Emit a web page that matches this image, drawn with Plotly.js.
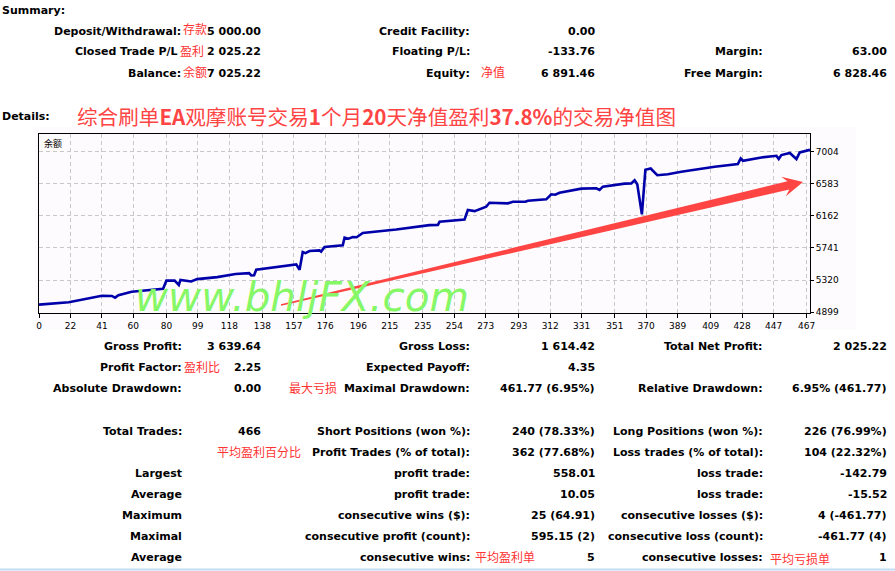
<!DOCTYPE html>
<html>
<head>
<meta charset="utf-8">
<script src="https://cdn.plot.ly/plotly-3.0.1.min.js"></script>
<style>
html,body{margin:0;padding:0;background:#fff;}
#chart{width:895px;height:571px;}
</style>
</head>
<body>
<div id="chart"></div>
<script>
// ---- data ----
const tradeNo = [3,21,41,47,49,51,59,78,80,85,87.5,88.5,95,98.6,110.7,121.8,130,131.3,133,134.3,158.5,160.5,162.4,164,166.5,172.5,173.5,175.6,186.6,187.7,190,192.7,195,198.7,218.9,239,244.1,245.1,260.2,262.2,266.3,270.3,273.3,275.3,286.4,289.4,297,298.5,309.6,312.6,315,317.6,323.7,327.7,330.8,339.8,341.8,343.8,357,361,363,364.6,367.4,369.5,372.7,376.7,383.1,391.2,411.4,425.4,427.1,428.5,439.6,448.7,450.1,451.7,456.8,460.8,462.8,469];
const balance = [5000,5030,5115,5113,5091,5123,5169,5208,5313,5313,5257,5323,5303,5333,5359,5400,5411,5381,5383,5456,5526,5456,5688,5673,5701,5710,5693,5754,5776,5877,5863,5885,5881,5938,5983,6040,6043,6083,6114,6237,6223,6259,6280,6333,6325,6346,6346,6359,6377,6443,6438,6464,6487,6500,6517,6522,6500,6543,6583,6585,6627,6575,6180,6763,6780,6693,6706,6737,6803,6838,6912,6882,6925,6947,6904,6956,6983,6904,6991,7025];
const xTickVals = [3,22,41,60,80,99,118,138,157,176,196,215,235,254,273,293,312,331,351,370,389,409,428,447,467];
const xTickText = ['0','22','41','60','80','99','118','138','157','176','196','215','235','254','273','293','312','331','351','370','389','409','428','447','467'];
const yTickVals = [4899,5320,5741,6162,6583,7004];
const yTickText = ['4899','5320','5741','6162','6583','7004'];

const summaryRows = [
  ['Deposit/Withdrawal:','存款','5 000.00','Credit Facility:','','0.00','',''],
  ['Closed Trade P/L','盈利','2 025.22','Floating P/L:','','-133.76','Margin:','63.00'],
  ['Balance:','余额','7 025.22','Equity:','净值','6 891.46','Free Margin:','6 828.46']
];
const detailRows = [
  ['Gross Profit:','','3 639.64','Gross Loss:','','1 614.42','Total Net Profit:','2 025.22'],
  ['Profit Factor:','盈利比','2.25','Expected Payoff:','','4.35','',''],
  ['Absolute Drawdown:','','0.00','Maximal Drawdown:','最大亏损','461.77 (6.95%)','Relative Drawdown:','6.95% (461.77)']
];
const tradeRows = [
  ['Total Trades:','','466','Short Positions (won %):','','240 (78.33%)','Long Positions (won %):','226 (76.99%)',''],
  ['','平均盈利百分比','','Profit Trades (% of total):','','362 (77.68%)','Loss trades (% of total):','104 (22.32%)',''],
  ['Largest','','','profit trade:','','558.01','loss trade:','-142.79',''],
  ['Average','','','profit trade:','','10.05','loss trade:','-15.52',''],
  ['Maximum','','','consecutive wins ($):','','25 (64.91)','consecutive losses ($):','4 (-461.77)',''],
  ['Maximal','','','consecutive profit (count):','','595.15 (2)','consecutive loss (count):','-461.77 (4)',''],
  ['Average','','','consecutive wins:','平均盈利单','5','consecutive losses:','1','平均亏损单']
];

// ---- layout helpers (page pixel -> paper) ----
const L = 39, R = 85, T = 134, B = 258, W = 895, H = 571;
const PW = W - L - R, PH = H - T - B;
const px = X => (X - L) / PW;
const py = Y => (H - B - Y) / PH;

const FONT = 'DejaVu Sans';
const black = {family: FONT, size: 11, color: '#000', weight: 'bold'};
const red = {family: 'Noto Sans CJK SC', size: 12, color: '#ff3333'};

const ann = [];
function txt(text, X, Y, anchor, font) {
  ann.push({text: text, x: px(X), y: py(Y), xref: 'paper', yref: 'paper',
    xanchor: anchor, yanchor: 'middle', showarrow: false, font: font, borderpad: 0});
}

txt('<b>Summary:</b>', 1, 11, 'left', black);
txt('<b>Details:</b>', 1, 116, 'left', black);

const sumY = [31, 52, 73];
summaryRows.forEach((r, i) => {
  const y = sumY[i];
  const c1 = (i === 1) ? 179 : 181.5;
  txt('<b>' + r[0] + '</b>', c1, y, 'right', black);
  if (r[1]) txt(r[1], c1, y - 2, 'left', red);
  txt('<b>' + r[2] + '</b>', 262, y, 'right', black);
  txt('<b>' + r[3] + '</b>', 471, y, 'right', black);
  if (r[4]) txt(r[4], 480, y - 2, 'left', red);
  txt('<b>' + r[5] + '</b>', 595.5, y, 'right', black);
  if (r[6]) txt('<b>' + r[6] + '</b>', 763.5, y, 'right', black);
  if (r[7]) txt('<b>' + r[7] + '</b>', 888, y, 'right', black);
});

const detY = [346, 367, 388];
detailRows.forEach((r, i) => {
  const y = detY[i];
  txt('<b>' + r[0] + '</b>', 183, y, 'right', black);
  if (r[1]) txt(r[1], 183, y - 1, 'left', red);
  txt('<b>' + r[2] + '</b>', 262, y, 'right', black);
  if (r[4]) txt(r[4], 288, y - 1, 'left', red);
  txt('<b>' + r[3] + '</b>', 471, y, 'right', black);
  txt('<b>' + r[5] + '</b>', 595.5, y, 'right', black);
  if (r[6]) txt('<b>' + r[6] + '</b>', 763.5, y, 'right', black);
  if (r[7]) txt('<b>' + r[7] + '</b>', 888, y, 'right', black);
});

const trY = [431, 452, 473, 494, 515, 536, 557];
tradeRows.forEach((r, i) => {
  const y = trY[i];
  if (r[0]) txt('<b>' + r[0] + '</b>', 183, y, 'right', black);
  if (r[1]) txt(r[1], 216, y - 1, 'left', red);
  if (r[2]) txt('<b>' + r[2] + '</b>', 262, y, 'right', black);
  txt('<b>' + r[3] + '</b>', 471, y, 'right', black);
  if (r[4]) txt(r[4], 474, y - 1, 'left', red);
  txt('<b>' + r[5] + '</b>', 595.5, y, 'right', black);
  txt('<b>' + r[6] + '</b>', 763.5, y, 'right', black);
  if (r[8]) txt(r[8], 769, y + 1, 'left', red);
  txt('<b>' + r[7] + '</b>', 888, y, 'right', black);
});

// title in red
ann.push({text: '综合刷单<b>EA</b>观摩账号交易<b>1</b>个月<b>20</b>天净值盈利<b>37.8%</b>的交易净值图',
  x: px(76), y: py(116), xref: 'paper', yref: 'paper', xanchor: 'left', yanchor: 'middle',
  showarrow: false, borderpad: 0, font: {family: 'Noto Sans CJK SC', size: 20.6, color: '#ff4444'}});

// chart label
ann.push({text: '余额', x: px(43), y: py(143), xref: 'paper', yref: 'paper', xanchor: 'left', yanchor: 'middle',
  showarrow: false, borderpad: 0, font: {family: 'Noto Sans CJK SC', size: 9, color: '#000'}});

// watermark
ann.push({text: 'www.bhljFX.com', x: px(302), y: py(297), xref: 'paper', yref: 'paper', xanchor: 'center', yanchor: 'middle',
  showarrow: false, borderpad: 0, font: {family: FONT, size: 40.5, color: '#86f766', style: 'italic'}});

// arrow polygon (page pixels)
const S = [281, 305], Tip = [803, 182];
const dx = Tip[0] - S[0], dy = Tip[1] - S[1], len = Math.hypot(dx, dy);
const ux = dx / len, uy = dy / len, nx = -uy, ny = ux;
const Bp = [S[0] + ux * (len - 20), S[1] + uy * (len - 20)];
const Bb = [S[0] + ux * (len - 15), S[1] + uy * (len - 15)];
function P(p) { return px(p[0]).toFixed(5) + ',' + py(p[1]).toFixed(5); }
const pts = [
  [S[0] + nx * 0.8, S[1] + ny * 0.8],
  [Bb[0] + nx * 4.2, Bb[1] + ny * 4.2],
  [Bp[0] + nx * 10, Bp[1] + ny * 10],
  Tip,
  [Bp[0] - nx * 10, Bp[1] - ny * 10],
  [Bb[0] - nx * 4.2, Bb[1] - ny * 4.2],
  [S[0] - nx * 0.8, S[1] - ny * 0.8]
];
const arrowPath = 'M' + pts.map(P).join(' L') + ' Z';

const shapes = [
  {type: 'rect', xref: 'paper', yref: 'paper', x0: px(35), x1: px(856), y0: py(330), y1: py(127),
   fillcolor: '#fdfbfd', line: {width: 0}, layer: 'below'},
  {type: 'path', xref: 'paper', yref: 'paper', path: arrowPath, fillcolor: '#ff4444', line: {width: 0}, layer: 'above'},
  {type: 'line', xref: 'paper', yref: 'paper', x0: px(0), x1: px(895), y0: py(569.5), y1: py(569.5),
   line: {color: '#c4dcf2', width: 2}}
];

const trace = {
  x: tradeNo, y: balance, type: 'scatter', mode: 'lines',
  line: {color: '#0000aa', width: 2.6}, hoverinfo: 'skip'
};

const layout = {
  width: W, height: H,
  margin: {l: L, r: R, t: T, b: B, pad: 0},
  paper_bgcolor: '#ffffff', plot_bgcolor: '#fef9fe',
  showlegend: false,
  xaxis: {range: [3, 469], tickvals: xTickVals, ticktext: xTickText, showgrid: true,
    gridcolor: '#c8c8c8', griddash: '4px,3px', gridwidth: 1, zeroline: false,
    showline: true, linecolor: '#000', linewidth: 1, mirror: true,
    ticks: 'outside', ticklen: 4, tickcolor: '#000', tickwidth: 1,
    tickfont: {family: FONT, size: 9, color: '#000'}, fixedrange: true},
  yaxis: {range: [4890, 7232], tickvals: yTickVals, ticktext: yTickText, side: 'right', showgrid: true,
    gridcolor: '#c8c8c8', griddash: '4px,3px', gridwidth: 1, zeroline: false,
    showline: true, linecolor: '#000', linewidth: 1, mirror: true,
    ticks: 'outside', ticklen: 3, tickcolor: '#000', tickwidth: 1,
    tickfont: {family: FONT, size: 9, color: '#000'}, fixedrange: true},
  annotations: ann,
  shapes: shapes
};

Plotly.newPlot('chart', [trace], layout, {displayModeBar: false, staticPlot: true});
</script>
</body>
</html>
